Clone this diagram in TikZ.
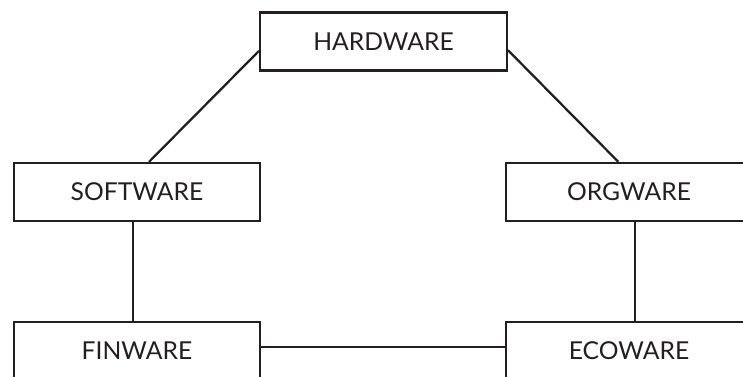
\documentclass[tikz,border=0pt]{standalone}
\usepackage{fontspec}
\setmainfont{Lato}
\usetikzlibrary{positioning}
\definecolor{ink}{HTML}{231F20}

\begin{document}
\begin{tikzpicture}[x=0.75pt, y=-0.75pt, font=\fontsize{18.5}{20}\selectfont,
    ware/.style={draw=ink, line width=1.7pt, text=ink, minimum width=185pt, minimum height=43.5pt, inner sep=0pt},
    link/.style={draw=ink, line width=1.7pt}
]
    \useasboundingbox (0,0) rectangle (743,376);
    \clip (0,0) rectangle (743,376);
    \node[ware] (hard) at (383.5,41.5) {HARDWARE};
    \node[ware] (soft) at (137,192) {SOFTWARE};
    \node[ware] (org) at (629,192) {ORGWARE};
    \node[ware] (fin) at (137,351) {FINWARE};
    \node[ware] (eco) at (629,351) {ECOWARE};
    \draw[link] ([yshift=-7pt]hard.west) -- ([xshift=9pt]soft.north);
    \draw[link] ([yshift=-6.5pt]hard.east) -- ([xshift=-8pt]org.north);
    \draw[link] ([xshift=-3pt]soft.south) -- ([xshift=-3pt]fin.north);
    \draw[link] ([xshift=4.5pt]org.south) -- ([xshift=4.5pt]eco.north);
    \draw[link] ([yshift=3pt]fin.east) -- ([yshift=3pt]eco.west);
\end{tikzpicture}
\end{document}
